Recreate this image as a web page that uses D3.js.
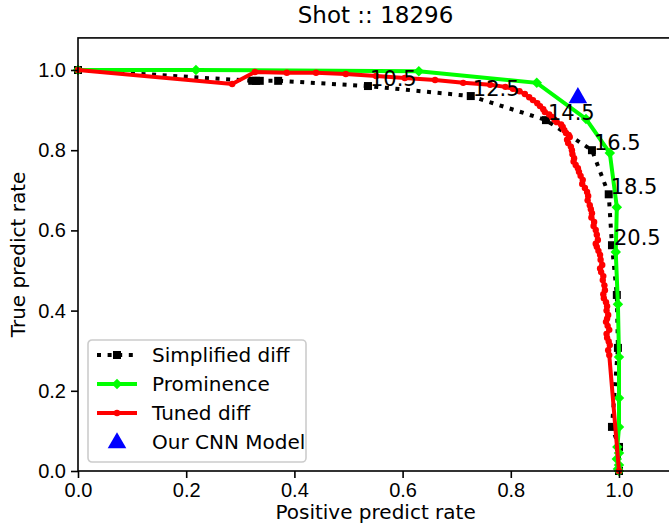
<!DOCTYPE html>
<html lang="en">
  <head>
    <meta charset="UTF-8" />
    <title>Shot :: 18296</title>
    <script src="https://d3js.org/d3.v7.min.js"></script>
    <style>
      body { margin: 0; background: #fff; }
      svg { display: block; font-family: "DejaVu Sans", sans-serif; }
      .tick text { font-size: 20px; fill: #000; }
    </style>
  </head>
  <body>
    <svg></svg>
    <script>
      // Simplified diff (black dotted, squares)
      let simpX = [0, 0.322, 0.329, 0.336, 0.37, 0.536, 0.726, 0.865, 0.95, 0.981, 0.987, 0.996, 0.998, 0.987, 1.0, 1.0];
      let simpY = [1.0, 0.973, 0.973, 0.973, 0.973, 0.96, 0.935, 0.875, 0.8, 0.69, 0.563, 0.439, 0.307, 0.11, 0.06, 0.0];
      let simpLabels = ["", "", "", "", "", "10.5", "12.5", "14.5", "16.5", "18.5", "20.5", "", "", "", "", ""];

      // Prominence (green, diamonds)
      let promX = [0, 0.218, 0.63, 0.848, 0.939, 0.983, 0.996, 0.994, 0.998, 1.0, 1.0, 1.0, 0.997, 1.0, 0.996, 1.0, 0.998, 1.0];
      let promY = [1.0, 1.0, 0.997, 0.968, 0.878, 0.793, 0.658, 0.546, 0.416, 0.284, 0.182, 0.11, 0.06, 0.045, 0.03, 0.015, 0.005, 0.0];

      // Tuned diff (red, dots)
      let tunedX = [0, 0.285, 0.327, 0.386, 0.44, 0.495, 0.551, 0.604, 0.66, 0.712, 0.762, 0.79, 0.804, 0.816, 0.826,
        0.834, 0.841, 0.849, 0.854, 0.86, 0.863, 0.871, 0.876, 0.881, 0.885, 0.893, 0.896, 0.899, 0.902, 0.907,
        0.909, 0.904, 0.906, 0.911, 0.913, 0.914, 0.917, 0.916, 0.92, 0.924, 0.926, 0.929, 0.933, 0.932, 0.937,
        0.941, 0.943, 0.942, 0.946, 0.948, 0.95, 0.949, 0.954, 0.953, 0.957, 0.959, 0.961, 0.957, 0.959, 0.962,
        0.965, 0.966, 0.969, 0.965, 0.967, 0.971, 0.97, 0.973, 0.974, 0.971, 0.972, 0.976, 0.978, 0.977, 0.98,
        0.978, 0.976, 0.979, 0.982, 0.977, 0.978, 0.981, 0.983, 0.98, 0.982, 1.0];
      let tunedY = [1.0, 0.965, 0.995, 0.993, 0.993, 0.99, 0.985, 0.98, 0.975, 0.968, 0.963, 0.958, 0.953, 0.947, 0.94,
        0.932, 0.925, 0.917, 0.91, 0.902, 0.895, 0.889, 0.883, 0.876, 0.87, 0.864, 0.858, 0.85, 0.843, 0.838,
        0.833, 0.826, 0.818, 0.809, 0.8, 0.79, 0.78, 0.772, 0.763, 0.755, 0.746, 0.736, 0.726, 0.716, 0.706,
        0.696, 0.686, 0.675, 0.663, 0.653, 0.643, 0.632, 0.621, 0.611, 0.601, 0.589, 0.576, 0.567, 0.559, 0.549,
        0.539, 0.527, 0.514, 0.505, 0.496, 0.486, 0.476, 0.463, 0.451, 0.441, 0.431, 0.421, 0.411, 0.4, 0.389,
        0.38, 0.372, 0.362, 0.352, 0.342, 0.332, 0.323, 0.314, 0.301, 0.289, 0.0];

      // Our CNN Model
      let cnnX = [0.924];
      let cnnY = [0.933];

      let xTicks = [0, 0.2, 0.4, 0.6, 0.8, 1.0];
      let yTicks = [0, 0.2, 0.4, 0.6, 0.8, 1.0];

      let width = 669,
        height = 528;
      let margin = { left: 78, top: 38, bottom: 57 };

      let svg = d3.select("svg").attr("width", width).attr("height", height);

      let x = d3.scaleLinear().domain([0, 1.1]).range([margin.left, margin.left + 1.1 * 541]);
      let y = d3.scaleLinear().domain([0, 1.08]).range([height - margin.bottom, height - margin.bottom - 1.08 * 401]);

      let zip = (xs, ys) => xs.map((v, i) => [v, ys[i]]);
      let simp = zip(simpX, simpY),
        prom = zip(promX, promY),
        tuned = zip(tunedX, tunedY),
        cnn = zip(cnnX, cnnY);

      let line = d3.line().x((d) => x(d[0])).y((d) => y(d[1]));

      let plot = svg.append("g");

      // simplified diff
      plot.append("path").datum(simp).attr("d", line).attr("fill", "none")
        .attr("stroke", "#000").attr("stroke-width", 4).attr("stroke-dasharray", "4,6.6");
      plot.selectAll(".sq").data(simp).enter().append("rect")
        .attr("x", (d) => x(d[0]) - 4).attr("y", (d) => y(d[1]) - 4)
        .attr("width", 8).attr("height", 8).attr("fill", "#000");

      // prominence
      plot.append("path").datum(prom).attr("d", line).attr("fill", "none")
        .attr("stroke", "#00ff00").attr("stroke-width", 4);
      plot.selectAll(".dm").data(prom).enter().append("path")
        .attr("d", d3.symbol(d3.symbolDiamond2, 70)())
        .attr("transform", (d) => "translate(" + x(d[0]) + "," + y(d[1]) + ")")
        .attr("fill", "#00ff00");

      // tuned diff
      plot.append("path").datum(tuned).attr("d", line).attr("fill", "none")
        .attr("stroke", "#ff0000").attr("stroke-width", 4);
      plot.selectAll(".dot").data(tuned).enter().append("circle")
        .attr("cx", (d) => x(d[0])).attr("cy", (d) => y(d[1])).attr("r", 3.2).attr("fill", "#ff0000");

      // cnn
      plot.selectAll(".tri").data(cnn).enter().append("path")
        .attr("d", d3.symbol(d3.symbolTriangle, 150)())
        .attr("transform", (d) => "translate(" + x(d[0]) + "," + (y(d[1]) + 1) + ")")
        .attr("fill", "#0000ff");

      // threshold labels
      plot.selectAll(".lab").data(simp.filter((d, i) => simpLabels[i])).enter().append("text")
        .attr("x", (d) => x(d[0]) + 2).attr("y", (d) => y(d[1]))
        .attr("font-size", 21).text((d) => simpLabels[simp.indexOf(d)]);

      // axes
      svg.append("g").attr("transform", "translate(0," + y(0) + ")")
        .call(d3.axisBottom(x).tickValues(xTicks).tickFormat(d3.format(".1f")).tickSize(7).tickPadding(5));
      svg.append("g").attr("transform", "translate(" + x(0) + ",0)")
        .call(d3.axisLeft(y).tickValues(yTicks).tickFormat(d3.format(".1f")).tickSize(7).tickPadding(5));
      svg.selectAll(".domain").remove();
      svg.selectAll(".tick line").attr("stroke", "#000").attr("stroke-width", 1.6);

      // frame
      svg.append("rect").attr("x", x(0)).attr("y", y(1.08))
        .attr("width", x(1.1) - x(0)).attr("height", y(0) - y(1.08))
        .attr("fill", "none").attr("stroke", "#000").attr("stroke-width", 1.6);

      // titles
      svg.append("text").attr("x", (x(0) + x(1.1)) / 2).attr("y", 23)
        .attr("text-anchor", "middle").attr("font-size", 23).text("Shot :: 18296");
      svg.append("text").attr("x", (x(0) + x(1.1)) / 2).attr("y", 519)
        .attr("text-anchor", "middle").attr("font-size", 20).text("Positive predict rate");
      svg.append("text").attr("transform", "translate(25," + (y(0) + y(1.08)) / 2 + ") rotate(-90)")
        .attr("text-anchor", "middle").attr("font-size", 20).text("True predict rate");

      // legend
      let legend = svg.append("g").attr("transform", "translate(88,340)");
      legend.append("rect").attr("width", 218).attr("height", 122).attr("rx", 4)
        .attr("fill", "#fff").attr("fill-opacity", 0.8).attr("stroke", "#cccccc").attr("stroke-width", 1.6);
      let names = ["Simplified diff", "Prominence", "Tuned diff", "Our CNN Model"];
      names.forEach((n, i) => {
        let row = legend.append("g").attr("transform", "translate(0," + (15 + i * 29) + ")");
        if (i === 0) {
          row.append("line").attr("x1", 9).attr("x2", 49).attr("stroke", "#000")
            .attr("stroke-width", 4).attr("stroke-dasharray", "4,6.6");
          row.append("rect").attr("x", 25).attr("y", -4).attr("width", 8).attr("height", 8).attr("fill", "#000");
        } else if (i === 1) {
          row.append("line").attr("x1", 9).attr("x2", 49).attr("stroke", "#00ff00").attr("stroke-width", 4);
          row.append("path").attr("d", d3.symbol(d3.symbolDiamond2, 70)())
            .attr("transform", "translate(29,0)").attr("fill", "#00ff00");
        } else if (i === 2) {
          row.append("line").attr("x1", 9).attr("x2", 49).attr("stroke", "#ff0000").attr("stroke-width", 4);
          row.append("circle").attr("cx", 29).attr("r", 3.2).attr("fill", "#ff0000");
        } else {
          row.append("path").attr("d", d3.symbol(d3.symbolTriangle, 150)())
            .attr("transform", "translate(29,1)").attr("fill", "#0000ff");
        }
        row.append("text").attr("x", 64).attr("y", 7).attr("font-size", 20).text(n);
      });
    </script>
  </body>
</html>
